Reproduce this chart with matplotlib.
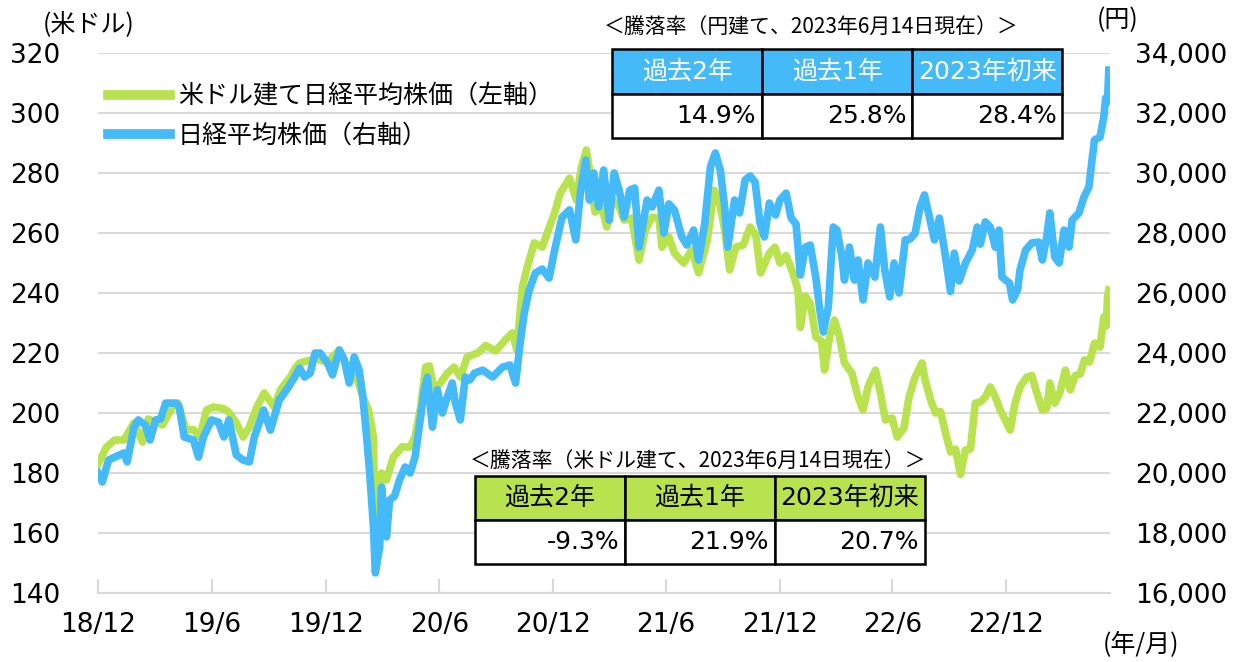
import pandas as pd
import matplotlib.pyplot as plt
from matplotlib.lines import Line2D
from matplotlib.ticker import FuncFormatter

plt.rcParams['font.family'] = ['DejaVu Sans', 'Noto Sans CJK JP']

# 米ドル建て日経平均株価（左軸）
usd_dates = [
    '2018-12-28', '2019-01-11', '2019-01-24', '2019-02-08', '2019-02-24', '2019-03-10', '2019-03-19',
    '2019-04-11', '2019-04-27', '2019-05-06', '2019-05-19', '2019-05-31', '2019-06-10', '2019-06-21',
    '2019-07-02', '2019-07-18', '2019-07-27', '2019-08-08', '2019-08-19', '2019-08-29', '2019-09-10',
    '2019-09-22', '2019-10-08', '2019-10-18', '2019-11-03', '2019-11-11', '2019-11-18', '2019-12-13',
    '2020-01-02', '2020-01-21', '2020-02-06', '2020-02-19', '2020-02-28', '2020-03-08', '2020-03-16',
    '2020-03-19', '2020-03-26', '2020-03-29', '2020-04-06', '2020-04-17', '2020-05-01', '2020-05-14',
    '2020-05-22', '2020-05-31', '2020-06-08', '2020-06-14', '2020-06-22', '2020-07-02', '2020-07-13',
    '2020-07-24', '2020-08-03', '2020-08-14', '2020-08-31', '2020-09-13', '2020-09-29', '2020-10-14',
    '2020-10-26', '2020-11-02', '2020-11-11', '2020-11-19', '2020-11-30', '2020-12-13', '2020-12-21',
    '2021-01-02', '2021-01-11', '2021-01-26', '2021-02-06', '2021-02-14', '2021-02-22', '2021-02-28',
    '2021-03-08', '2021-03-19', '2021-03-27', '2021-04-05', '2021-04-16', '2021-04-24', '2021-05-06',
    '2021-05-18', '2021-05-28', '2021-06-08', '2021-06-19', '2021-06-24', '2021-07-05', '2021-07-14',
    '2021-07-29', '2021-08-11', '2021-08-22', '2021-09-05', '2021-09-16', '2021-09-24', '2021-10-03',
    '2021-10-11', '2021-10-21', '2021-11-02', '2021-11-13', '2021-11-22', '2021-11-30', '2021-12-14',
    '2021-12-23', '2021-12-31', '2022-01-10', '2022-01-21', '2022-01-29', '2022-02-02', '2022-02-10',
    '2022-02-18', '2022-02-27', '2022-03-08', '2022-03-13', '2022-03-21', '2022-03-29', '2022-04-06',
    '2022-04-14', '2022-04-26', '2022-05-06', '2022-05-14', '2022-05-22', '2022-06-03', '2022-06-11',
    '2022-06-19', '2022-06-30', '2022-07-08', '2022-07-19', '2022-07-27', '2022-08-06', '2022-08-17',
    '2022-08-22', '2022-08-31', '2022-09-08', '2022-09-16', '2022-09-24', '2022-10-02', '2022-10-10',
    '2022-10-18', '2022-10-26', '2022-11-03', '2022-11-11', '2022-11-19', '2022-11-27', '2022-12-05',
    '2022-12-13', '2022-12-21', '2022-12-29', '2023-01-06', '2023-01-14', '2023-01-22', '2023-02-02',
    '2023-02-10', '2023-02-18', '2023-02-27', '2023-03-06', '2023-03-11', '2023-03-19', '2023-03-27',
    '2023-04-05', '2023-04-13', '2023-04-21', '2023-04-29', '2023-05-06', '2023-05-14', '2023-05-22',
    '2023-05-31', '2023-06-06', '2023-06-10', '2023-06-12', '2023-06-14',
]
usd_values = [
    183, 188.7, 191, 191, 196.7, 190.3, 198,
    196, 202, 203.3, 194.3, 194.5, 192, 201,
    202, 201.5, 200.3, 196.7, 192, 195.3, 202,
    206.7, 202, 207.7, 212, 215, 216.7, 218,
    217, 221, 214.3, 211, 205.3, 201, 192,
    152, 170, 180, 177.7, 185.3, 188.7, 188.7,
    192, 202, 215.3, 215.7, 207.7, 210, 213.3,
    215.3, 212, 218.7, 220, 222.5, 220.7, 224.3,
    226.7, 221, 242, 248.7, 256.7, 255.3, 260,
    266.7, 273.3, 278.3, 271, 282, 287.7, 280,
    267, 268.7, 262, 271, 268.7, 264.3, 265,
    251, 261, 265.3, 265, 255.3, 258.7, 253.3,
    250, 254.3, 246.7, 257.7, 274.3, 271, 261,
    247.7, 255.3, 256, 262, 259.5, 246.7, 253.3,
    255.3, 250, 252.5, 246.7, 241, 228.5, 239,
    236.5, 225.3, 224, 214.3, 225.3, 231, 225.3,
    216.7, 213.3, 205.3, 201, 208.7, 214.3, 206.7,
    197.7, 198.3, 192, 195, 205.3, 212, 216.7,
    211, 204.3, 200, 200.5, 193.3, 187, 188,
    179.5, 187.7, 188, 203.3, 203.7, 205.3, 208.7,
    205.5, 201, 197.7, 194.3, 203.3, 208.7, 212,
    212.5, 206.7, 201, 201.5, 210, 203.3, 206.7,
    214.3, 207.7, 212.5, 213, 217.7, 217, 223.3,
    222, 232, 229, 238.7, 241,
]

# 日経平均株価（右軸）
jpy_dates = [
    '2018-12-28', '2019-01-04', '2019-01-14', '2019-01-24', '2019-02-08', '2019-02-13', '2019-02-24',
    '2019-03-03', '2019-03-14', '2019-03-22', '2019-03-31', '2019-04-08', '2019-04-16', '2019-05-03',
    '2019-05-08', '2019-05-16', '2019-05-31', '2019-06-08', '2019-06-16', '2019-06-29', '2019-07-10',
    '2019-07-19', '2019-07-27', '2019-08-08', '2019-08-19', '2019-08-29', '2019-09-06', '2019-09-21',
    '2019-10-02', '2019-10-16', '2019-10-29', '2019-11-10', '2019-11-18', '2019-11-26', '2019-12-05',
    '2019-12-13', '2019-12-21', '2020-01-02', '2020-01-10', '2020-01-21', '2020-01-29', '2020-02-06',
    '2020-02-14', '2020-02-22', '2020-02-28', '2020-03-05', '2020-03-10', '2020-03-16', '2020-03-19',
    '2020-03-26', '2020-03-29', '2020-04-06', '2020-04-11', '2020-04-19', '2020-04-27', '2020-05-06',
    '2020-05-14', '2020-05-22', '2020-05-31', '2020-06-06', '2020-06-11', '2020-06-19', '2020-06-27',
    '2020-07-05', '2020-07-13', '2020-07-21', '2020-07-26', '2020-08-03', '2020-08-11', '2020-08-18',
    '2020-08-26', '2020-09-08', '2020-09-24', '2020-10-10', '2020-10-22', '2020-10-31', '2020-11-08',
    '2020-11-14', '2020-11-22', '2020-12-02', '2020-12-13', '2020-12-24', '2021-01-03', '2021-01-14',
    '2021-01-26', '2021-02-05', '2021-02-13', '2021-02-21', '2021-02-27', '2021-03-06', '2021-03-14',
    '2021-03-22', '2021-03-31', '2021-04-08', '2021-04-16', '2021-04-24', '2021-05-03', '2021-05-11',
    '2021-05-18', '2021-05-31', '2021-06-08', '2021-06-19', '2021-06-27', '2021-07-05', '2021-07-14',
    '2021-07-26', '2021-08-03', '2021-08-14', '2021-08-22', '2021-09-01', '2021-09-10', '2021-09-18',
    '2021-09-26', '2021-10-03', '2021-10-08', '2021-10-19', '2021-10-27', '2021-11-05', '2021-11-13',
    '2021-11-21', '2021-11-29', '2021-12-06', '2021-12-14', '2021-12-24', '2021-12-31', '2022-01-10',
    '2022-01-18', '2022-01-26', '2022-02-02', '2022-02-10', '2022-02-18', '2022-02-27', '2022-03-05',
    '2022-03-11', '2022-03-19', '2022-03-27', '2022-04-02', '2022-04-10', '2022-04-14', '2022-04-22',
    '2022-04-30', '2022-05-06', '2022-05-14', '2022-05-22', '2022-06-02', '2022-06-11', '2022-06-18',
    '2022-06-26', '2022-07-03', '2022-07-11', '2022-07-21', '2022-07-29', '2022-08-06', '2022-08-14',
    '2022-08-21', '2022-08-29', '2022-09-06', '2022-09-14', '2022-09-24', '2022-10-02', '2022-10-08',
    '2022-10-16', '2022-10-26', '2022-11-06', '2022-11-14', '2022-11-19', '2022-11-27', '2022-12-05',
    '2022-12-13', '2022-12-19', '2022-12-24', '2023-01-05', '2023-01-10', '2023-01-18', '2023-01-22',
    '2023-01-31', '2023-02-10', '2023-02-21', '2023-02-27', '2023-03-06', '2023-03-11', '2023-03-19',
    '2023-03-26', '2023-04-03', '2023-04-11', '2023-04-16', '2023-04-27', '2023-05-05', '2023-05-13',
    '2023-05-18', '2023-05-22', '2023-05-31', '2023-06-06', '2023-06-09', '2023-06-12', '2023-06-14',
]
jpy_values = [
    20000, 19700, 20430, 20530, 20670, 20370, 21530,
    21770, 21600, 21100, 21770, 21800, 22330, 22330,
    22200, 21200, 21100, 20530, 21200, 21770, 21700,
    21200, 21770, 20600, 20430, 20370, 21200, 22100,
    21430, 22430, 22800, 23200, 23500, 23200, 23330,
    24000, 24000, 23670, 23270, 24100, 23770, 23000,
    23870, 23430, 22530, 21200, 20000, 18200, 16670,
    17530, 19530, 17870, 19100, 19230, 19770, 20200,
    20000, 20530, 21870, 22770, 23200, 21530, 22770,
    22000, 22530, 23000, 22330, 21770, 23200, 23100,
    23330, 23430, 23200, 23530, 23600, 23000, 24430,
    25330, 26100, 26670, 26800, 26500, 27530, 28530,
    28770, 27770, 29430, 30430, 29100, 30000, 28870,
    30100, 28430, 30000, 29430, 28530, 29430, 29500,
    27530, 29100, 28870, 29430, 28000, 28970, 28770,
    27870, 27600, 28100, 27100, 28330, 30200, 30670,
    30100, 28870, 27530, 29100, 28670, 29770, 29900,
    29700, 28330, 27870, 29000, 28600, 29100, 29330,
    28500, 28300, 26600, 27530, 27600, 26500, 25500,
    24700, 25530, 28200, 28100, 27200, 26430, 27530,
    26430, 27100, 25770, 27000, 26530, 28200, 26770,
    25870, 27000, 26000, 27770, 27800, 28000, 28870,
    29270, 28530, 27770, 28500, 27200, 26050, 27330,
    26400, 27000, 27430, 28200, 27630, 28370, 28200,
    27530, 28100, 26530, 26330, 25770, 26100, 26770,
    27430, 27670, 27700, 27100, 27870, 28670, 27200,
    27000, 28100, 27530, 28430, 28670, 29200, 29530,
    30430, 31100, 31200, 31870, 32500, 32370, 33430,
]

tick_dates = ['2018-12-28', '2019-06-30', '2019-12-31', '2020-06-30', '2020-12-31',
              '2021-06-30', '2021-12-31', '2022-06-30', '2022-12-31']
tick_labels = ['18/12', '19/6', '19/12', '20/6', '20/12', '21/6', '21/12', '22/6', '22/12']

table_headers = ['過去2年', '過去1年', '2023年初来']
jpy_changes = ['14.9%', '25.8%', '28.4%']
usd_changes = ['-9.3%', '21.9%', '20.7%']

green = '#B8E34F'
blue = '#45BAF8'
grid_c = '#D9D9D9'
jp_font = ['Noto Sans CJK JP', 'DejaVu Sans']

fig = plt.figure(figsize=(12.43, 6.62), dpi=100)
ax = fig.add_axes([0.0788, 0.1042, 0.8142, 0.8157])
ax2 = ax.twinx()

ax.plot(pd.to_datetime(usd_dates), usd_values, color=green, lw=5.5, solid_joinstyle='round')
ax2.plot(pd.to_datetime(jpy_dates), jpy_values, color=blue, lw=5.5, solid_joinstyle='round')

ax.set_xlim(pd.Timestamp('2018-12-28'), pd.Timestamp('2023-06-16'))
ax.set_ylim(140, 320)
ax2.set_ylim(16000, 34000)
ax.set_yticks(range(140, 321, 20))
ax2.set_yticks(range(16000, 34001, 2000))
ax2.yaxis.set_major_formatter(FuncFormatter(lambda v, p: f'{int(v):,}'))
ax.set_xticks(pd.to_datetime(tick_dates))
ax.set_xticklabels(tick_labels)

ax.grid(axis='y', color=grid_c, lw=1.5)
ax.set_axisbelow(True)
for a in (ax, ax2):
    for s in ('top', 'left', 'right'):
        a.spines[s].set_visible(False)
ax2.spines['bottom'].set_visible(False)
ax.spines['bottom'].set_color(grid_c)
ax.spines['bottom'].set_linewidth(1.5)

ax.tick_params(axis='x', direction='in', length=10, width=1.5, color=grid_c,
               labelsize=19, pad=14)
ax.tick_params(axis='y', length=0, labelsize=19, pad=27)
ax2.tick_params(axis='y', length=0, labelsize=19, pad=18)

fig.text(0.0346, 0.962, '(米ドル)', fontsize=18, ha='left', va='center', family=jp_font)
fig.text(0.8825, 0.970, '(円)', fontsize=18, ha='left', va='center', family=jp_font)
fig.text(0.887, 0.026, '(年/月)', fontsize=18, ha='left', va='center', family=jp_font)

handles = [Line2D([], [], color=green, lw=7), Line2D([], [], color=blue, lw=7)]
ax2.legend(handles, ['米ドル建て日経平均株価（左軸）', '日経平均株価（右軸）'],
           loc='upper left', bbox_to_anchor=(0.0, 0.96), frameon=False,
           fontsize=18, handlelength=2.5, handletextpad=0.3, labelspacing=0.6,
           borderaxespad=0)


def draw_table(bbox, values, head_color, head_text):
    tb = ax2.table(cellText=[values], colLabels=table_headers, cellLoc='right',
                   colLoc='center', bbox=bbox)
    tb.auto_set_font_size(False)
    tb.set_fontsize(18)
    for (r, c), cell in tb.get_celld().items():
        cell.set_edgecolor('black')
        cell.set_linewidth(1.8)
        cell.PAD = 0.04
        if r == 0:
            cell.set_facecolor(head_color)
            cell.get_text().set_color(head_text)
        else:
            cell.set_facecolor('white')
    tb.set_zorder(5)
    return tb


draw_table([0.508, 0.8426, 0.445, 0.1648], jpy_changes, blue, 'white')
draw_table([0.3725, 0.0537, 0.4447, 0.163], usd_changes, green, 'black')

ax2.text(0.50, 1.048, '＜騰落率（円建て、2023年6月14日現在）＞', transform=ax2.transAxes,
         fontsize=15, ha='left', va='center', family=jp_font)
ax2.text(0.367, 0.245, '＜騰落率（米ドル建て、2023年6月14日現在）＞', transform=ax2.transAxes,
         fontsize=15, ha='left', va='center', family=jp_font)

fig.savefig('out.png', dpi=100)
